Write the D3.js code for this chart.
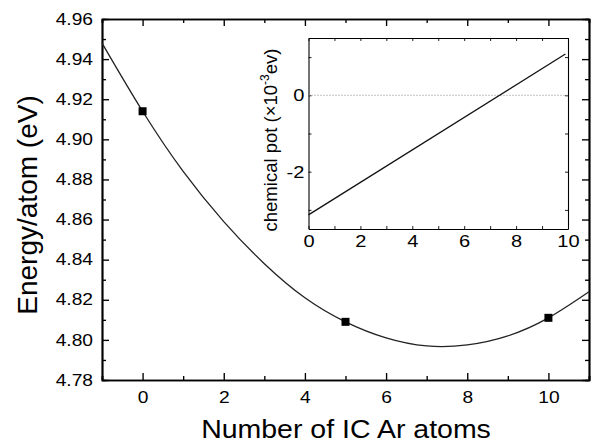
<!DOCTYPE html>
<html lang="en">
<head>
    <meta charset="UTF-8">
    <title>Energy per atom vs number of IC Ar atoms</title>
    <script src="https://d3js.org/d3.v7.min.js"></script>
    <style>
        body {
            margin: 0;
            background-color: #fff;
        }
        svg text {
            font-family: "Liberation Sans", Arial, sans-serif;
            fill: #000;
        }
    </style>
</head>
<body>
    <svg id="chart" width="593" height="444"></svg>
    <script>
        // Main panel: fitted curve and the three computed points
        const fitN = [-1, 0, 1, 2, 3, 4, 5, 6, 7, 8, 9, 10, 11];
        const fitE = [4.948, 4.914, 4.884, 4.859, 4.838, 4.821, 4.809, 4.801, 4.797, 4.7975, 4.802, 4.811, 4.824];
        const pointN = [0, 5, 10];
        const pointE = [4.914, 4.809, 4.811];

        // Inset: chemical potential (x 10^-3 eV)
        const insetN = [0, 9.9];
        const insetMu = [-3.13, 1.08];

        const xTicks = [0, 2, 4, 6, 8, 10];
        const xMinor = [-1, 1, 3, 5, 7, 9, 11];
        const yTicks = [4.78, 4.80, 4.82, 4.84, 4.86, 4.88, 4.90, 4.92, 4.94, 4.96];
        const yMinor = [4.79, 4.81, 4.83, 4.85, 4.87, 4.89, 4.91, 4.93, 4.95];
        const insetXTicks = [0, 1, 2, 3, 4, 5, 6, 7, 8, 9, 10];
        const insetYTicks = [-3, -2, -1, 0, 1];

        const svg = d3.select("#chart");
        svg.append("rect").attr("width", 593).attr("height", 444).attr("fill", "#fff");

        // scales
        const x = d3.scaleLinear().domain([-1, 11]).range([102, 589]);
        const y = d3.scaleLinear().domain([4.78, 4.96]).range([380, 19]);

        const ix = d3.scaleLinear().domain([0, 10]).range([308.5, 568]);
        const iy = d3.scaleLinear().domain([-3.5, 1.5]).range([229, 38]);

        function styleAxis(g, width) {
            g.selectAll("path.domain").attr("stroke", "#000").attr("stroke-width", width);
            g.selectAll(".tick line").attr("stroke", "#000").attr("stroke-width", width * 0.8);
        }

        // ---- main axes ----
        const mainG = svg.append("g");

        // minor ticks first
        [[d3.axisBottom(x), 380], [d3.axisTop(x), 19]].forEach(([ax, ty]) => {
            mainG.append("g").attr("transform", `translate(0,${ty})`)
                .call(ax.tickValues(xMinor).tickSize(-4).tickFormat(""))
                .call(g => styleAxis(g, 1.7));
        });
        [[d3.axisLeft(y), 102], [d3.axisRight(y), 589]].forEach(([ax, tx]) => {
            mainG.append("g").attr("transform", `translate(${tx},0)`)
                .call(ax.tickValues(yMinor).tickSize(-4).tickFormat(""))
                .call(g => styleAxis(g, 1.7));
        });

        // major ticks
        const xBottom = mainG.append("g").attr("transform", "translate(0,380)")
            .call(d3.axisBottom(x).tickValues(xTicks).tickSizeInner(-7).tickSizeOuter(0)
                .tickPadding(12).tickFormat(d3.format("d")))
            .call(g => styleAxis(g, 1.7));
        mainG.append("g").attr("transform", "translate(0,19)")
            .call(d3.axisTop(x).tickValues(xTicks).tickSizeInner(-7).tickSizeOuter(0).tickFormat(""))
            .call(g => styleAxis(g, 1.7));
        const yLeft = mainG.append("g").attr("transform", "translate(102,0)")
            .call(d3.axisLeft(y).tickValues(yTicks).tickSizeInner(-7).tickSizeOuter(0)
                .tickPadding(7.5).tickFormat(d3.format(".2f")))
            .call(g => styleAxis(g, 1.7));
        mainG.append("g").attr("transform", "translate(589,0)")
            .call(d3.axisRight(y).tickValues(yTicks).tickSizeInner(-7).tickSizeOuter(0).tickFormat(""))
            .call(g => styleAxis(g, 1.7));

        [xBottom, yLeft].forEach(g => g.selectAll("text")
            .attr("font-size", 16).attr("transform", "scale(1.2,1)"));

        // ---- main curve + points ----
        const line = d3.line()
            .x((d, i) => x(fitN[i]))
            .y(d => y(d))
            .curve(d3.curveNatural);

        svg.append("path")
            .datum(fitE)
            .attr("d", line)
            .attr("fill", "none")
            .attr("stroke", "#222")
            .attr("stroke-width", 1.3);

        svg.append("g").selectAll("rect")
            .data(pointE)
            .join("rect")
            .attr("x", (d, i) => x(pointN[i]) - 4)
            .attr("y", d => y(d) - 4)
            .attr("width", 8)
            .attr("height", 8)
            .attr("fill", "#000");

        // axis titles
        svg.append("text")
            .attr("transform", "translate(346,438) scale(1.14,1)")
            .attr("text-anchor", "middle")
            .attr("font-size", 25)
            .text("Number of IC Ar atoms");

        svg.append("text")
            .attr("transform", "translate(37,205) rotate(-90)")
            .attr("text-anchor", "middle")
            .attr("font-size", 28)
            .text("Energy/atom (eV)");

        // ---- inset ----
        const inset = svg.append("g");
        inset.append("rect")
            .attr("x", ix(0)).attr("y", iy(1.5))
            .attr("width", ix(10) - ix(0)).attr("height", iy(-3.5) - iy(1.5))
            .attr("fill", "#fff");

        const ixBottom = inset.append("g").attr("transform", `translate(0,${iy(-3.5)})`)
            .call(d3.axisBottom(ix).tickValues(insetXTicks).tickSizeInner(-3).tickSizeOuter(0)
                .tickPadding(6).tickFormat(d => d % 2 === 0 ? String(d) : ""))
            .call(g => styleAxis(g, 1.1));
        inset.append("g").attr("transform", `translate(0,${iy(1.5)})`)
            .call(d3.axisTop(ix).tickValues(insetXTicks).tickSizeInner(-3).tickSizeOuter(0).tickFormat(""))
            .call(g => styleAxis(g, 1.1));
        const iyLeft = inset.append("g").attr("transform", `translate(${ix(0)},0)`)
            .call(d3.axisLeft(iy).tickValues(insetYTicks).tickSizeInner(-3).tickSizeOuter(0)
                .tickPadding(3.5).tickFormat(d => d % 2 === 0 ? String(d) : ""))
            .call(g => styleAxis(g, 1.1));
        inset.append("g").attr("transform", `translate(${ix(10)},0)`)
            .call(d3.axisRight(iy).tickValues(insetYTicks).tickSizeInner(-3).tickSizeOuter(0).tickFormat(""))
            .call(g => styleAxis(g, 1.1));

        [ixBottom, iyLeft].forEach(g => g.selectAll("text")
            .attr("font-size", 17).attr("transform", "scale(1.18,1)"));
        svg.selectAll("g").attr("font-family", null);

        // zero reference line
        inset.append("line")
            .attr("x1", ix(0)).attr("x2", ix(10))
            .attr("y1", iy(0)).attr("y2", iy(0))
            .attr("stroke", "#888")
            .attr("stroke-width", 1)
            .attr("stroke-dasharray", "1,2");

        const iline = d3.line()
            .x((d, i) => ix(insetN[i]))
            .y(d => iy(d));

        inset.append("path")
            .datum(insetMu)
            .attr("d", iline)
            .attr("fill", "none")
            .attr("stroke", "#111")
            .attr("stroke-width", 1.3);

        const ylab = inset.append("text")
            .attr("transform", "translate(277,140) rotate(-90)")
            .attr("text-anchor", "middle")
            .attr("font-size", 18.5);
        ylab.append("tspan").text("chemical pot (\u00d710");
        ylab.append("tspan").attr("font-size", 12).attr("dy", -8).text("-3");
        ylab.append("tspan").attr("dy", 8).text("ev)");
    </script>
</body>
</html>
